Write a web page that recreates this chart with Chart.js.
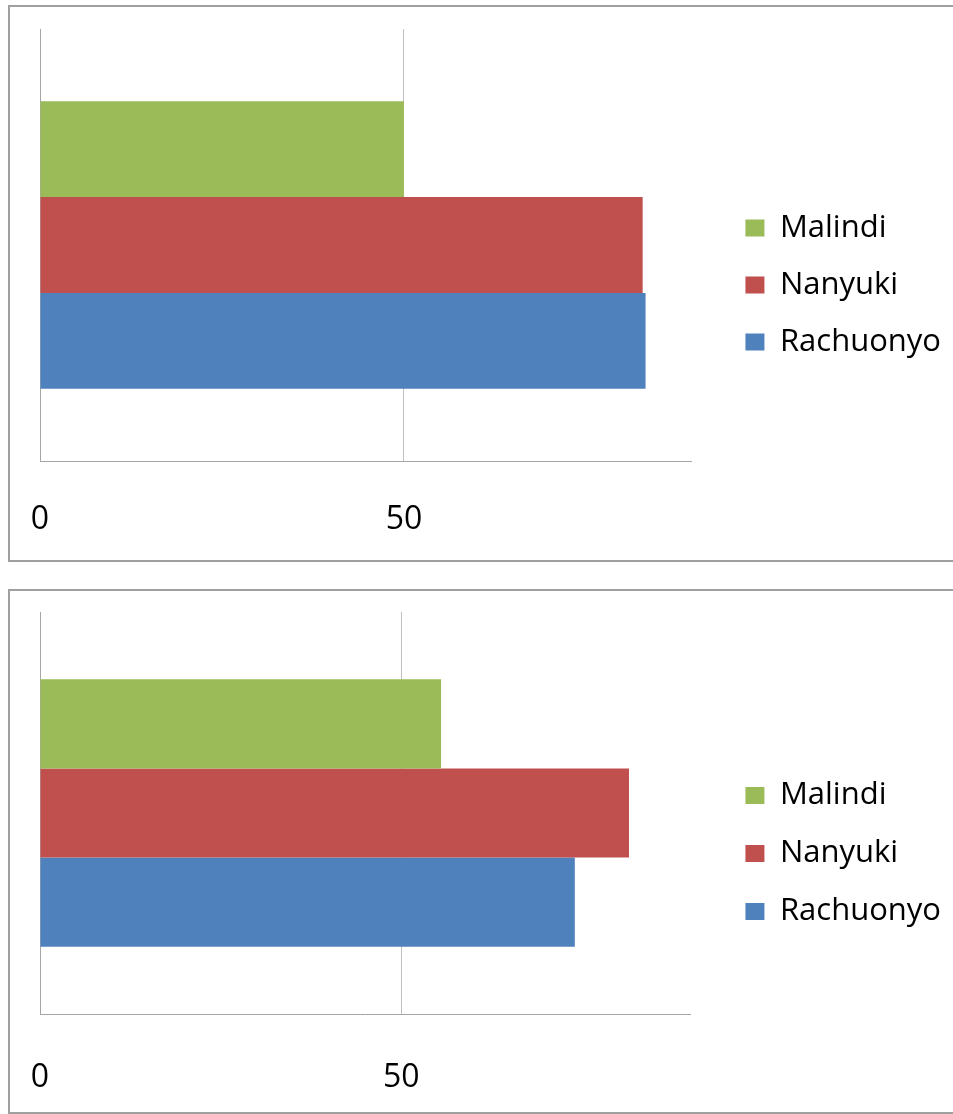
<!DOCTYPE html>
<html>
<head>
<meta charset="utf-8">
<script src="https://cdn.jsdelivr.net/npm/chart.js@4"></script>
<style>
  html, body { margin: 0; padding: 0; background: #fff; overflow: hidden; }
  .box { position: absolute; left: 8px; width: 960px; border: 2px solid #a0a0a0; background: #fff; }
  #box1 { top: 5px; height: 553px; }
  #box2 { top: 589px; height: 521px; }
  canvas { display: block; }
</style>
</head>
<body>
<div class="box" id="box1"><canvas id="chart1" width="943" height="553"></canvas></div>
<div class="box" id="box2"><canvas id="chart2" width="943" height="521"></canvas></div>
<script>
var categories = [''];
var seriesNames = ['Malindi', 'Nanyuki', 'Rachuonyo'];
var seriesColors = ['#9bbb59', '#c0504d', '#4f81bd'];
var topValues = [50, 82.8, 83.2];
var bottomValues = [55.5, 81.5, 74];
var tickValues = [0, 50];
var axisMax = [89.5, 90];

function makeChart(id, values, xMax, pad, xHeight, legendPad, tickGap) {
  var ctx = document.getElementById(id).getContext('2d');

  var datasets = seriesNames.map(function(name, i) {
    return {
      label: name,
      data: [values[i]],
      backgroundColor: seriesColors[i],
      borderWidth: 0,
      barPercentage: 1,
      categoryPercentage: 0.665
    };
  });

  return new Chart(ctx, {
    type: 'bar',
    data: { labels: categories, datasets: datasets },
    options: {
      indexAxis: 'y',
      responsive: false,
      animation: false,
      layout: { padding: pad },
      plugins: {
        tooltip: { enabled: false },
        legend: {
          position: 'right',
          align: 'center',
          maxWidth: 400,
          labels: {
            boxWidth: 19,
            boxHeight: 17,
            padding: legendPad,
            color: '#000',
            font: { family: 'Open Sans', size: 31 }
          }
        }
      },
      scales: {
        x: {
          min: 0,
          max: xMax,
          afterBuildTicks: function(scale) {
            scale.ticks = tickValues.map(function(v) { return { value: v }; });
          },
          afterFit: function(scale) { scale.height = xHeight; },
          // invisible tick marks push the labels down without widening the left margin
          grid: { color: '#bfbfbf', lineWidth: 1, drawTicks: true, tickLength: tickGap, tickColor: 'rgba(0,0,0,0)' },
          border: { color: '#a6a6a6' },
          ticks: {
            padding: 0,
            color: '#000',
            maxRotation: 0,
            font: { family: 'Open Sans', size: 32 }
          }
        },
        y: {
          afterFit: function(scale) { scale.width = 30; },
          grid: { display: false },
          border: { color: '#a6a6a6' },
          ticks: { display: false }
        },
        // empty space between plot and legend
        y2: {
          type: 'category',
          position: 'right',
          afterFit: function(scale) { scale.width = 28; },
          grid: { display: false },
          border: { display: false },
          ticks: { display: false }
        }
      }
    }
  });
}

makeChart('chart1', topValues, axisMax[0], { top: 22, bottom: 19, left: 0, right: 2 }, 80, 26, 40);
makeChart('chart2', bottomValues, axisMax[1], { top: 21, bottom: 17, left: 0, right: 2 }, 81, 27, 45);
</script>
</body>
</html>
